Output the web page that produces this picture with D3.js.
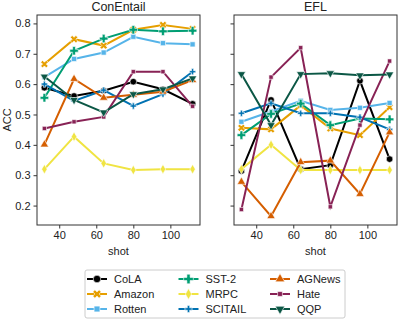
<!DOCTYPE html>
<html>
<head>
<meta charset="utf-8">
<script src="https://cdn.jsdelivr.net/npm/d3@7"></script>
<style>
  body { margin: 0; background: #fff; }
  svg { font-family: "Liberation Sans", Arial, sans-serif; }
</style>
</head>
<body>
<svg id="chart"></svg>
<script>
const shots = [32, 48, 64, 80, 96, 112];
const tasks = ["CoLA", "Amazon", "Rotten", "SST-2", "MRPC", "SCITAIL", "AGNews", "Hate", "QQP"];
const panels = ["ConEntail", "EFL"];
const xTicks = [40, 60, 80, 100];
const yTicks = [0.2, 0.3, 0.4, 0.5, 0.6, 0.7, 0.8];

const conEntail = {
    "CoLA":    [0.588, 0.561, 0.578, 0.608, 0.583, 0.535],
    "Amazon":  [0.666, 0.748, 0.727, 0.779, 0.795, 0.782],
    "Rotten":  [0.623, 0.683, 0.704, 0.756, 0.735, 0.731],
    "SST-2":   [0.555, 0.710, 0.750, 0.779, 0.774, 0.776],
    "MRPC":    [0.320, 0.427, 0.339, 0.317, 0.320, 0.320],
    "SCITAIL": [0.600, 0.545, 0.580, 0.528, 0.567, 0.641],
    "AGNews":  [0.401, 0.617, 0.555, 0.565, 0.575, 0.613],
    "Hate":    [0.454, 0.476, 0.492, 0.641, 0.641, 0.527],
    "QQP":     [0.625, 0.548, 0.507, 0.567, 0.583, 0.619]
};
const efl = {
    "CoLA":    [0.314, 0.548, 0.320, 0.333, 0.611, 0.353],
    "Amazon":  [0.456, 0.451, 0.530, 0.454, 0.432, 0.524],
    "Rotten":  [0.476, 0.510, 0.545, 0.515, 0.522, 0.538],
    "SST-2":   [0.432, 0.502, 0.536, 0.465, 0.487, 0.484],
    "MRPC":    [0.320, 0.400, 0.317, 0.317, 0.317, 0.317],
    "SCITAIL": [0.504, 0.537, 0.504, 0.504, 0.491, 0.451],
    "AGNews":  [0.278, 0.165, 0.343, 0.348, 0.238, 0.441],
    "Hate":    [0.187, 0.623, 0.720, 0.196, 0.465, 0.676],
    "QQP":     [0.633, 0.465, 0.633, 0.636, 0.629, 0.632]
};

const colors = {
    "CoLA": "#000000", "Amazon": "#E69F00", "Rotten": "#56B4E9",
    "SST-2": "#009E73", "MRPC": "#F0E442", "SCITAIL": "#0072B2",
    "AGNews": "#D55E00", "Hate": "#882255", "QQP": "#0b5745"
};
const markers = {
    "CoLA": { type: d3.symbolCircle, size: 34, rot: 0 },
    "Amazon": { type: d3.symbolCross, size: 34, rot: 45 },
    "Rotten": { type: d3.symbolSquare, size: 26, rot: 0 },
    "SST-2": { type: d3.symbolCross, size: 40, rot: 0 },
    "MRPC": { type: d3.symbolDiamond, size: 26, rot: 0 },
    "SCITAIL": { type: d3.symbolCross, size: 22, rot: 0 },
    "AGNews": { type: d3.symbolTriangle, size: 30, rot: 0 },
    "Hate": { type: d3.symbolSquare, size: 18, rot: 0 },
    "QQP": { type: d3.symbolTriangle, size: 30, rot: 180 }
};

const W = 399, H = 319;
const svg = d3.select("#chart").attr("width", W).attr("height", H);

const panelLeft = [37, 234], panelW = 163;
const plotTop = 15, plotBottom = 225;

const y = d3.scaleLinear().domain([0.136, 0.8277]).range([plotBottom, plotTop]);

[conEntail, efl].forEach((data, pi) => {
    const x = d3.scaleLinear().domain([28, 116]).range([panelLeft[pi], panelLeft[pi] + panelW]);
    const g = svg.append("g");

    const line = d3.line().x((d, i) => x(shots[i])).y(d => y(d));

    tasks.forEach(t => {
        g.append("path")
            .datum(data[t])
            .attr("fill", "none")
            .attr("stroke", colors[t])
            .attr("stroke-width", 2)
            .attr("d", line);
        g.selectAll(null)
            .data(data[t])
            .enter().append("path")
            .attr("transform", (d, i) => `translate(${x(shots[i])},${y(d)}) rotate(${markers[t].rot})`)
            .attr("d", d3.symbol().type(markers[t].type).size(markers[t].size))
            .attr("fill", colors[t])
            .attr("stroke", "#fff")
            .attr("stroke-width", 0.6);
    });

    // frame
    g.append("rect")
        .attr("x", panelLeft[pi]).attr("y", plotTop)
        .attr("width", panelW).attr("height", plotBottom - plotTop)
        .attr("fill", "none").attr("stroke", "#333").attr("stroke-width", 1);

    const xAxis = g.append("g")
        .attr("transform", `translate(0,${plotBottom})`)
        .call(d3.axisBottom(x).tickValues(xTicks).tickSize(3.5).tickPadding(3));
    xAxis.select(".domain").remove();
    xAxis.selectAll("line").attr("stroke", "#333");
    xAxis.selectAll("text").attr("fill", "#222").style("font-size", "11px");

    const yAxis = g.append("g")
        .attr("transform", `translate(${panelLeft[pi]},0)`)
        .call(d3.axisLeft(y).tickValues(yTicks).tickFormat(pi === 0 ? d3.format(".1f") : "")
            .tickSize(3.5).tickPadding(3));
    yAxis.select(".domain").remove();
    yAxis.selectAll("line").attr("stroke", "#333");
    yAxis.selectAll("text").attr("fill", "#222").style("font-size", "11px");

    g.append("text")
        .attr("x", panelLeft[pi] + panelW / 2)
        .attr("y", 11)
        .attr("text-anchor", "middle")
        .style("font-size", "12.5px")
        .attr("fill", "#222")
        .text(panels[pi]);

    g.append("text")
        .attr("x", panelLeft[pi] + panelW / 2)
        .attr("y", 255)
        .attr("text-anchor", "middle")
        .style("font-size", "11px")
        .attr("fill", "#222")
        .text("shot");
});

svg.append("text")
    .attr("transform", `translate(11,${(plotTop + plotBottom) / 2}) rotate(-90)`)
    .attr("text-anchor", "middle")
    .style("font-size", "11px")
    .attr("fill", "#222")
    .text("ACC");

// legend
const leg = svg.append("g");
leg.append("rect")
    .attr("x", 85).attr("y", 270).attr("width", 260).attr("height", 48)
    .attr("rx", 2)
    .attr("fill", "#fff").attr("stroke", "#ccc").attr("stroke-width", 1);

tasks.forEach((t, i) => {
    const col = Math.floor(i / 3), row = i % 3;
    const tx = 114 + col * 91.5, ty = 279 + row * 15;
    leg.append("line")
        .attr("x1", tx - 27).attr("x2", tx - 7)
        .attr("y1", ty).attr("y2", ty)
        .attr("stroke", colors[t]).attr("stroke-width", 2);
    leg.append("path")
        .attr("transform", `translate(${tx - 17},${ty}) rotate(${markers[t].rot})`)
        .attr("d", d3.symbol().type(markers[t].type).size(markers[t].size * 1.3))
        .attr("fill", colors[t])
        .attr("stroke", "#fff")
        .attr("stroke-width", 0.6);
    leg.append("text")
        .attr("x", tx).attr("y", ty)
        .attr("dy", "0.35em")
        .style("font-size", "11px")
        .attr("fill", "#222")
        .text(t);
});
</script>
</body>
</html>
